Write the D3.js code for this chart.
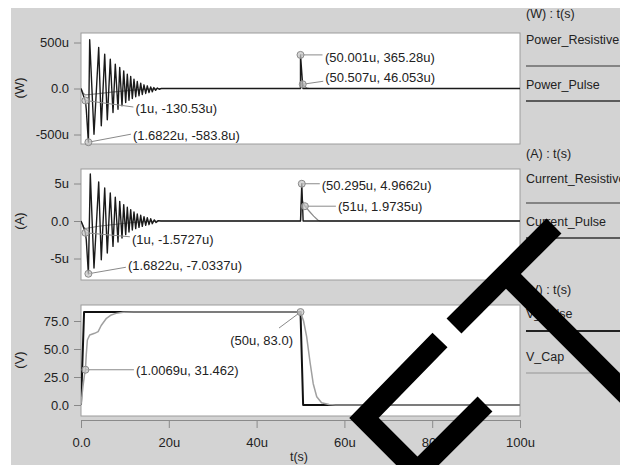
<!DOCTYPE html>
<html><head><meta charset="utf-8">
<script src="https://cdn.jsdelivr.net/npm/d3@7"></script>
<style>
body{margin:0;background:#fff}
svg{display:block}
text{font-family:"Liberation Sans",Arial,sans-serif;fill:#222}
</style>
</head><body>
<div id="chart"></div>
<script>
// ---------- data (time in µs) ----------
const xTicks = [0, 20, 40, 60, 80, 100];
const xTickLabels = ["0.0", "20u", "40u", "60u", "80u", "100u"];

const powerTicks = [500, 0, -500];
const powerTickLabels = ["500u", "0.0", "-500u"];
const currentTicks = [5, 0, -5];
const currentTickLabels = ["5u", "0.0", "-5u"];
const voltTicks = [75, 50, 25, 0];
const voltTickLabels = ["75.0", "50.0", "25.0", "0.0"];

const powerPulse = [[0,0],[0.45,-62],[0.83,-116],[1,-130.53],[1.2,-225],[1.6822,-583.8],[1.98,530],[2.96,-497],[4.03,446],[4.62,-405],[5.40,373],[5.99,-340],[6.67,318],[7.29,-261],[7.81,264],[8.43,-225],[8.82,228],[9.34,-188],[9.73,192],[10.18,-152],[10.55,155],[10.93,-127],[11.32,130],[11.69,-109],[12.07,101],[12.46,-90],[12.82,76],[13.21,-79],[13.6,58],[13.96,-65],[14.35,40],[14.74,-54],[15.1,29],[15.49,-43],[15.88,18],[16.24,-36],[16.6,10],[17.0,-20],[17.4,5],[17.8,-8],[18.3,0],[50,0],[50.001,365.28],[50.55,0],[100,0]];
const powerResistive = [[0,0],[0.5,-50],[1,-70],[2,-65],[4,-55],[7,-40],[10,-25],[14,-10],[18,0],[50,0],[50.3,60],[50.507,46.053],[51,20],[51.5,5],[52,0],[100,0]];

const currentPulse = [[0,0],[0.45,-0.6],[0.83,-1.3],[1,-1.5727],[1.2,-2.5],[1.6822,-7.0337],[2.12,6.27],[2.96,-6.27],[4.03,5.2],[4.62,-5.16],[5.40,4.4],[5.99,-4.27],[6.67,3.73],[7.29,-3.38],[7.81,3.16],[8.43,-2.8],[8.82,2.62],[9.34,-2.27],[9.73,2.18],[10.18,-1.82],[10.55,1.83],[10.93,-1.47],[11.32,1.51],[11.69,-1.2],[12.07,1.2],[12.46,-1.02],[12.82,0.93],[13.21,-0.84],[13.6,0.76],[13.96,-0.71],[14.35,0.58],[14.74,-0.58],[15.1,0.44],[15.49,-0.49],[15.88,0.31],[16.24,-0.36],[16.7,0.15],[17.1,-0.2],[17.6,0.05],[18.2,0],[50,0],[50.295,4.9662],[50.6,0],[100,0]];
const currentResistive = [[0,0],[0.5,-0.8],[1,-1.0],[2,-0.9],[4,-0.7],[7,-0.5],[10,-0.3],[14,-0.1],[18,0],[50,0],[50.3,3.2],[50.5,2.6],[51,1.9735],[52,1.3],[53,0.65],[54,0.1],[54.5,0],[100,0]];

const vPulse = [[0,0],[0.7,83],[50,83],[50.6,0],[100,0]];
const vCap = [[0,0],[0.4,15],[0.8,27],[1.0069,31.462],[1.2,45],[1.45,58],[1.98,62.5],[3.1,64],[3.9,65.5],[4.6,71],[5.8,77.4],[6.9,80.4],[8,81.8],[9.6,82.8],[12,83],[50,83],[50.7,75],[51.4,61],[52.2,37.5],[52.9,19],[53.7,7.4],[54.8,2],[56.5,0.5],[58,0],[100,0]];

const powerMarks = [[1,-130.53,"(1u, -130.53u)"],[1.6822,-583.8,"(1.6822u, -583.8u)"],[50.001,365.28,"(50.001u, 365.28u)"],[50.507,46.053,"(50.507u, 46.053u)"]];
const currentMarks = [[1,-1.5727,"(1u, -1.5727u)"],[1.6822,-7.0337,"(1.6822u, -7.0337u)"],[50.295,4.9662,"(50.295u, 4.9662u)"],[51,1.9735,"(51u, 1.9735u)"]];
const voltMarks = [[1.0069,31.462,"(1.0069u, 31.462)"],[50,83.0,"(50u, 83.0)"]];

const legendGroups = ["(W) : t(s)", "(A) : t(s)", "(V) : t(s)"];
const legendNames = [["Power_Resistive","Power_Pulse"],["Current_Resistive","Current_Pulse"],["V_Pulse","V_Cap"]];
const axisTitles = ["(W)", "(A)", "(V)"];

// ---------- layout ----------
const W = 620, H = 465;
const svg = d3.select("#chart").append("svg").attr("width", W).attr("height", H);
svg.append("rect").attr("x", 11).attr("y", 8).attr("width", W - 11).attr("height", H - 8).attr("fill", "#d3d3d3");

const x = d3.scaleLinear().domain([0, 100]).range([81, 520]);
const panels = [
  {top: 33, bottom: 144, y: d3.scaleLinear().domain([-500, 500]).range([134.5, 42.5]), ticks: powerTicks, labels: powerTickLabels,
   series: [{d: powerResistive, c: "#8a8a8a", w: 1.2}, {d: powerPulse, c: "#1a1a1a", w: 1.4}], marks: powerMarks, title: axisTitles[0], ty: 88,
   lab: [[50, 7.5, 48, 6.5], [44.5, -7, 42.5, -8], [24.5, 2.5, 22, 0], [22.5, -7, 20.5, -3]]},
  {top: 169, bottom: 280, y: d3.scaleLinear().domain([-5, 5]).range([258.5, 183.5]), ticks: currentTicks, labels: currentTickLabels,
   series: [{d: currentResistive, c: "#8a8a8a", w: 1.2}, {d: currentPulse, c: "#1a1a1a", w: 1.4}], marks: currentMarks, title: axisTitles[1], ty: 221,
   lab: [[46.5, 6.5, 44.5, 4], [39.5, -8.5, 37.5, -6.5], [20, 1.5, 18, 0], [33, 0.5, 31, 0]]},
  {top: 305, bottom: 416, y: d3.scaleLinear().domain([0, 75]).range([405, 321]), ticks: voltTicks, labels: voltTickLabels,
   series: [{d: vPulse, c: "#111", w: 2}, {d: vCap, c: "#a0a0a0", w: 1.5}], marks: voltMarks, title: axisTitles[2], ty: 360,
   lab: [[50.5, 0.5, 48.5, 0], [-7.5, 28, -21.5, 16]]}
];

panels.forEach((p, i) => {
  const g = svg.append("g");
  g.append("rect").attr("x", 81).attr("y", p.top).attr("width", 439).attr("height", p.bottom - p.top)
    .attr("fill", "#fff").attr("stroke", "#9c9c9c").attr("stroke-width", 1);
  const cid = "clip" + i;
  svg.append("clipPath").attr("id", cid).append("rect").attr("x", 81).attr("y", p.top).attr("width", 439).attr("height", p.bottom - p.top);

  const ax = d3.axisLeft(p.y).tickValues(p.ticks).tickFormat((d, j) => p.labels[j]).tickSize(7).tickPadding(5);
  const ag = g.append("g").attr("transform", "translate(81,0)").call(ax);
  ag.select(".domain").remove();
  ag.selectAll("line").attr("stroke", "#888");
  ag.selectAll("text").attr("font-size", 13).attr("fill", "#222").attr("font-family", '"Liberation Sans",Arial,sans-serif');

  g.append("text").attr("transform", `translate(19,${p.ty}) rotate(-90)`).attr("text-anchor", "middle")
    .attr("dy", "0.35em").attr("font-size", 13).text(p.title);

  const line = d3.line().x(d => x(d[0])).y(d => p.y(d[1]));
  const lg = g.append("g").attr("clip-path", `url(#${cid})`);
  p.series.forEach(s => {
    lg.append("path").attr("d", line(s.d)).attr("fill", "none").attr("stroke", s.c)
      .attr("stroke-width", s.w).attr("stroke-linejoin", "round");
  });

  p.marks.forEach((m, j) => {
    const mx = x(m[0]), my = p.y(m[1]);
    const o = p.lab[j];
    g.append("line").attr("x1", mx).attr("y1", my).attr("x2", mx + o[2]).attr("y2", my + o[3])
      .attr("stroke", "#8a8a8a").attr("stroke-width", 1);
    g.append("circle").attr("cx", mx).attr("cy", my).attr("r", 3.5)
      .attr("fill", "#c4c4c4").attr("fill-opacity", 0.7).attr("stroke", "#8a8a8a").attr("stroke-width", 1);
    g.append("text").attr("x", mx + o[0]).attr("y", my + o[1]).attr("dy", "0.35em")
      .attr("text-anchor", o[0] < 0 ? "end" : "start").attr("font-size", 13).text(m[2]);
  });
});

// x axis
const xa = d3.axisBottom(x).tickValues(xTicks).tickFormat((d, j) => xTickLabels[j]).tickSize(8).tickSizeOuter(0).tickPadding(10);
const xg = svg.append("g").attr("transform", "translate(0,420)").call(xa);
xg.select(".domain").attr("stroke", "#8a8a8a");
xg.selectAll("line").attr("stroke", "#8a8a8a");
xg.selectAll("text").attr("font-size", 13).attr("fill", "#222").attr("font-family", '"Liberation Sans",Arial,sans-serif');
svg.append("text").attr("x", 299).attr("y", 457).attr("dy", "0.35em").attr("text-anchor", "middle").attr("font-size", 12.5).text("t(s)");

// legend
const legendY = [[14, 40, 66, 85, 101], [154, 179, 203, 222, 238], [290, 314, 331, 357, 373]];
const legendStyle = [[["#6a6a6a", 1.5], ["#333", 1.5]], [["#6a6a6a", 1.5], ["#333", 1.5]], [["#222", 2], ["#aaa", 1.5]]];
legendGroups.forEach((h, i) => {
  const ly = legendY[i];
  svg.append("text").attr("x", 526).attr("y", ly[0]).attr("dy", "0.35em").attr("font-size", 12.5).text(h);
  legendNames[i].forEach((n, j) => {
    svg.append("text").attr("x", 526).attr("y", ly[1 + j * 2]).attr("dy", "0.35em").attr("font-size", 12.5).text(n);
    svg.append("line").attr("x1", 526).attr("x2", 620).attr("y1", ly[2 + j * 2]).attr("y2", ly[2 + j * 2])
      .attr("stroke", legendStyle[i][j][0]).attr("stroke-width", legendStyle[i][j][1]);
  });
});

// overlay stamp
const stamp = svg.append("g").attr("fill", "none").attr("stroke", "#000").attr("stroke-width", 21)
  .attr("stroke-linejoin", "miter").attr("stroke-linecap", "butt");
const stampLine = d3.line();
stamp.append("path").attr("d", stampLine([[440, 340], [364, 418], [417.5, 471.5], [485, 404]]));
stamp.append("path").attr("d", stampLine([[454, 326], [554, 226]]));
stamp.append("path").attr("d", stampLine([[506, 274], [660, 428]]));
</script>
</body></html>
